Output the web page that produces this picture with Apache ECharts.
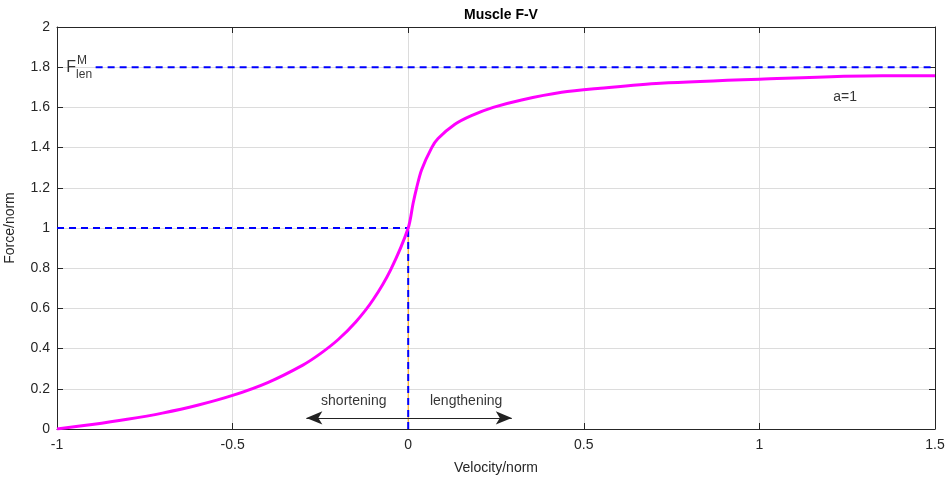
<!DOCTYPE html>
<html>
<head>
<meta charset="utf-8">
<script src="https://cdn.jsdelivr.net/npm/echarts@6/dist/echarts.min.js"></script>
<style>html,body{margin:0;padding:0;background:#fff}#c{width:947px;height:477px}</style>
</head>
<body>
<div id="c"></div>
<script>
// Force-velocity curve
const velocity = [-1, -0.9, -0.8, -0.7, -0.6, -0.5, -0.4, -0.3, -0.25, -0.2, -0.15, -0.1, -0.05, 0,
  0.014, 0.024, 0.038, 0.067, 0.085, 0.133, 0.18, 0.242, 0.323, 0.437, 0.547, 0.718, 1.0, 1.35, 1.5];
const force = [0, 0.022, 0.048, 0.079, 0.118, 0.167, 0.231, 0.318, 0.375, 0.444, 0.531, 0.643, 0.792, 1.0,
  1.123, 1.2, 1.289, 1.4, 1.445, 1.516, 1.559, 1.6, 1.637, 1.675, 1.695, 1.72, 1.74, 1.757, 1.757];
// reference lines
const fmaxLineX = [-0.89, 1.5];
const fmaxLineY = [1.8, 1.8];
const isoLineX = [-1, 0];
const isoLineY = [1, 1];
const vertLineX = [0, 0];
const vertLineY = [0, 1];
const arrowX = [-0.29, 0.295];
const arrowY = [0.055, 0.055];
const xTicks = [-1, -0.5, 0, 0.5, 1, 1.5];
const yTicks = [0, 0.2, 0.4, 0.6, 0.8, 1, 1.2, 1.4, 1.6, 1.8, 2];

const pairs = (xs, ys) => xs.map((x, i) => [x, ys[i]]);
const fmt = v => String(v);
const axisCol = '#262626';
const font = '"Liberation Sans", Arial, Helvetica, sans-serif';

const chart = echarts.init(document.getElementById('c'), null, {renderer: 'canvas'});
chart.setOption({
  animation: false,
  backgroundColor: '#fff',
  title: {
    text: 'Muscle F-V', left: 496, top: 3, textAlign: 'center',
    textStyle: {fontSize: 14, fontWeight: 'bold', color: '#000', fontFamily: font}
  },
  grid: {left: 57, right: 12, top: 27, bottom: 48, containLabel: false, outerBoundsMode: 'none'},
  xAxis: [{
    type: 'value', min: -1, max: 1.5, interval: 0.5,
    name: 'Velocity/norm', nameLocation: 'middle', nameGap: 32,
    nameTextStyle: {fontSize: 14, color: axisCol, fontFamily: font},
    axisLine: {lineStyle: {color: axisCol, width: 1}},
    axisTick: {inside: true, length: 6, lineStyle: {color: axisCol}},
    axisLabel: {fontSize: 14, color: axisCol, fontFamily: font, margin: 9, formatter: fmt},
    splitLine: {show: true, lineStyle: {color: '#dcdcdc', width: 1}}
  }, {
    type: 'value', min: -1, max: 1.5, interval: 0.5, position: 'top',
    axisLine: {show: true, onZero: false, lineStyle: {color: axisCol, width: 1}},
    axisTick: {show: true, inside: true, length: 6, lineStyle: {color: axisCol}},
    axisLabel: {show: false}, splitLine: {show: false}
  }],
  yAxis: [{
    type: 'value', min: 0, max: 2, interval: 0.2,
    name: 'Force/norm', nameLocation: 'middle', nameGap: 40, nameRotate: 90,
    nameTextStyle: {fontSize: 14, color: axisCol, fontFamily: font},
    axisLine: {show: true, onZero: false, lineStyle: {color: axisCol, width: 1}},
    axisTick: {inside: true, length: 6, lineStyle: {color: axisCol}},
    axisLabel: {fontSize: 14, color: axisCol, fontFamily: font, margin: 7,
      formatter: v => String(Math.round(v * 10) / 10)},
    splitLine: {show: true, lineStyle: {color: '#dcdcdc', width: 1}}
  }, {
    type: 'value', min: 0, max: 2, interval: 0.2, position: 'right',
    axisLine: {show: true, onZero: false, lineStyle: {color: axisCol, width: 1}},
    axisTick: {show: true, inside: true, length: 6, lineStyle: {color: axisCol}},
    axisLabel: {show: false}, splitLine: {show: false}
  }],
  series: [
    {
      type: 'line', data: pairs(vertLineX, vertLineY), showSymbol: false, silent: true,
      lineStyle: {color: '#ffa500', width: 1}, z: 2
    },
    {
      type: 'line', data: pairs(vertLineX, vertLineY), showSymbol: false, silent: true,
      lineStyle: {color: '#0000ff', width: 2, type: [7, 5]}, z: 3
    },
    {
      type: 'line', data: pairs(isoLineX, isoLineY), showSymbol: false, silent: true,
      lineStyle: {color: '#0000ff', width: 2, type: [7, 5]}, z: 3
    },
    {
      type: 'line', data: pairs(fmaxLineX, fmaxLineY), showSymbol: false, silent: true,
      lineStyle: {color: '#0000ff', width: 2, type: [7, 5]}, z: 3
    },
    {
      type: 'line', data: pairs(velocity, force), showSymbol: false, silent: true,
      smooth: 0.3,
      lineStyle: {color: '#ff00ff', width: 3}, z: 4,
      markLine: {
        silent: true, symbol: ['arrow', 'arrow'], symbolSize: [10, 16],
        lineStyle: {color: '#222', width: 1, type: 'solid'},
        label: {show: false},
        data: [[{coord: [arrowX[0], arrowY[0]]}, {coord: [arrowX[1], arrowY[1]]}]]
      }
    },
    {
      type: 'scatter', symbolSize: 0, silent: true,
      data: [
        {value: [-0.155, 0.14], label: {formatter: 'shortening'}},
        {value: [0.165, 0.14], label: {formatter: 'lengthening'}},
        {value: [1.244, 1.652], label: {formatter: 'a=1'}}
      ],
      label: {show: true, position: 'inside', fontSize: 14, color: '#000', fontFamily: font}
    },
    {
      type: 'scatter', symbolSize: 0, silent: true,
      data: [
        {value: [-0.96, 1.8], label: {formatter: 'F', fontSize: 16, offset: [0, 0]}},
        {value: [-0.96, 1.8], label: {formatter: 'M', fontSize: 12, offset: [11, -7]}},
        {value: [-0.96, 1.8], label: {formatter: 'len', fontSize: 12, offset: [13, 7]}}
      ],
      label: {show: true, position: 'inside', color: '#000', fontFamily: font}
    }
  ]
});
</script>
</body>
</html>
